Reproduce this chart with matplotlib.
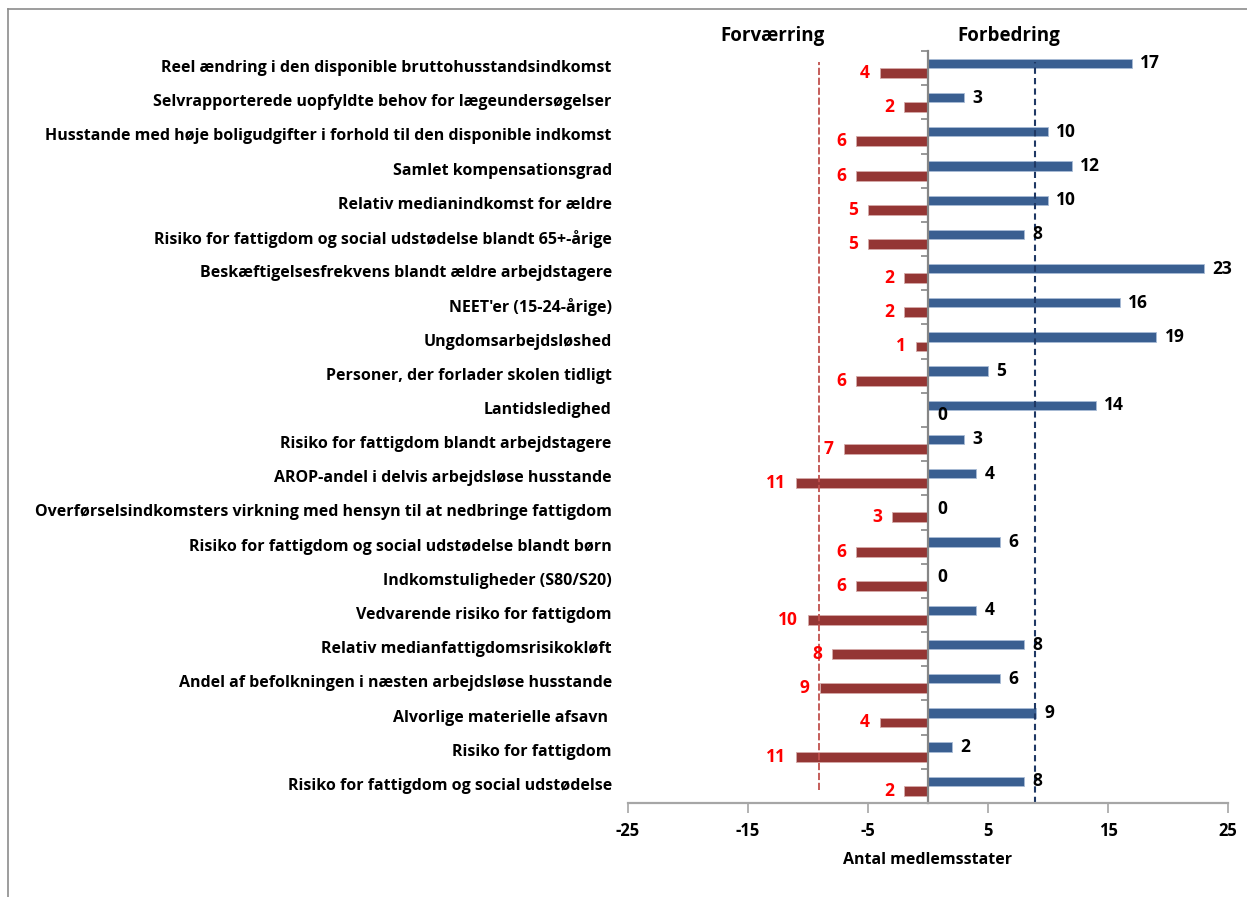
import numpy as np
import matplotlib
matplotlib.use("Agg")
import matplotlib.pyplot as plt
from matplotlib.lines import Line2D

plt.rcParams['font.family'] = ['Open Sans', 'DejaVu Sans']
plt.rcParams['font.weight'] = 'bold'
plt.rcParams['axes.labelweight'] = 'bold'

# indikatorer, fra top til bund
categories = [
    "Reel ændring i den disponible bruttohusstandsindkomst",
    "Selvrapporterede uopfyldte behov for lægeundersøgelser",
    "Husstande med høje boligudgifter i forhold til den disponible indkomst",
    "Samlet kompensationsgrad",
    "Relativ medianindkomst for ældre",
    "Risiko for fattigdom og social udstødelse blandt 65+-årige",
    "Beskæftigelsesfrekvens blandt ældre arbejdstagere",
    "NEET'er (15-24-årige)",
    "Ungdomsarbejdsløshed",
    "Personer, der forlader skolen tidligt",
    "Lantidsledighed",
    "Risiko for fattigdom blandt arbejdstagere",
    "AROP-andel i delvis arbejdsløse husstande",
    "Overførselsindkomsters virkning med hensyn til at nedbringe fattigdom",
    "Risiko for fattigdom og social udstødelse blandt børn",
    "Indkomstuligheder (S80/S20)",
    "Vedvarende risiko for fattigdom",
    "Relativ medianfattigdomsrisikokløft",
    "Andel af befolkningen i næsten arbejdsløse husstande",
    "Alvorlige materielle afsavn ",
    "Risiko for fattigdom",
    "Risiko for fattigdom og social udstødelse",
]
forbedring = [17, 3, 10, 12, 10, 8, 23, 16, 19, 5, 14, 3, 4, 0, 6, 0, 4, 8, 6, 9, 2, 8]
forvaerring = [4, 2, 6, 6, 5, 5, 2, 2, 1, 6, 0, 7, 11, 3, 6, 6, 10, 8, 9, 4, 11, 2]
graense_forv = -9.1
graense_forb = 8.9
xticks = [-25, -15, -5, 5, 15, 25]

blue = '#3A5F91'
red = '#943634'

n = len(categories)
y = np.arange(n)

fig = plt.figure(figsize=(12.47, 8.97), dpi=100)
ax = fig.add_axes([0.5036, 0.1048, 0.4812, 0.8384])

ax.barh(y - 0.135, forbedring, height=0.27, color=blue, edgecolor='#a9bcd6', linewidth=0.6)
ax.barh(y + 0.145, [-v for v in forvaerring], height=0.29, color=red, edgecolor='#d5aaa9', linewidth=0.6)

ax.set_xlim(-25, 25)
ax.set_ylim(n - 0.5, -0.5)

ax.axvline(graense_forv, ymin=0.017, ymax=0.985, color='#C0504D', lw=1.3, dashes=(4, 1.5))
ax.axvline(graense_forb, ymin=0.0, ymax=0.985, color='#1F3864', lw=1.5, dashes=(3, 2))

fs_val = 12.5
for yi, v in zip(y, forbedring):
    if v == 0:
        ax.text(0.8, yi - 0.1, "0", ha='left', va='center', fontsize=fs_val, color='black')
    else:
        ax.text(v + 0.7, yi - 0.135, str(v), ha='left', va='center', fontsize=fs_val, color='black')
for yi, v in zip(y, forvaerring):
    if v == 0:
        ax.text(0.8, yi + 0.145, "0", ha='left', va='center', fontsize=fs_val, color='black')
    else:
        ax.text(-v - 0.85, yi + 0.145, str(v), ha='right', va='center', fontsize=fs_val, color='#FF0000')

# kategorinavne til venstre
for yi, c in zip(y, categories):
    ax.text(-0.027, yi, c, transform=ax.get_yaxis_transform(), ha='right', va='center',
            fontsize=11.5, color='black')

ax.text(-13, 1.02, "Forværring", transform=ax.get_xaxis_transform(), ha='center', va='center', fontsize=13.5)
ax.text(6.75, 1.02, "Forbedring", transform=ax.get_xaxis_transform(), ha='center', va='center', fontsize=13.5)

for s in ['top', 'right']:
    ax.spines[s].set_visible(False)
ax.spines['left'].set_position(('data', 0))
ax.spines['left'].set_color('#868686')
ax.spines['left'].set_linewidth(1.6)
ax.spines['bottom'].set_color('#A6A6A6')
ax.spines['bottom'].set_linewidth(1.6)

ax.set_yticks(np.arange(n + 1) - 0.5)
ax.set_yticklabels([])
ax.tick_params(axis='y', length=5, width=1.2, color='#868686', direction='out')
ax.set_xticks(xticks)
ax.set_xticklabels([str(t) for t in xticks])
ax.tick_params(axis='x', length=7, width=1.2, color='#A6A6A6', labelsize=12, pad=7)
ax.set_xlabel("Antal medlemsstater", fontsize=11.5, labelpad=8)

# ramme
fig.add_artist(Line2D([8 / 1247, 1], [1 - 9 / 897, 1 - 9 / 897], color='#8c8c8c', lw=1.2))
fig.add_artist(Line2D([8 / 1247, 8 / 1247], [0, 1 - 9 / 897], color='#8c8c8c', lw=1.2))

fig.savefig("out.png", dpi=100)
